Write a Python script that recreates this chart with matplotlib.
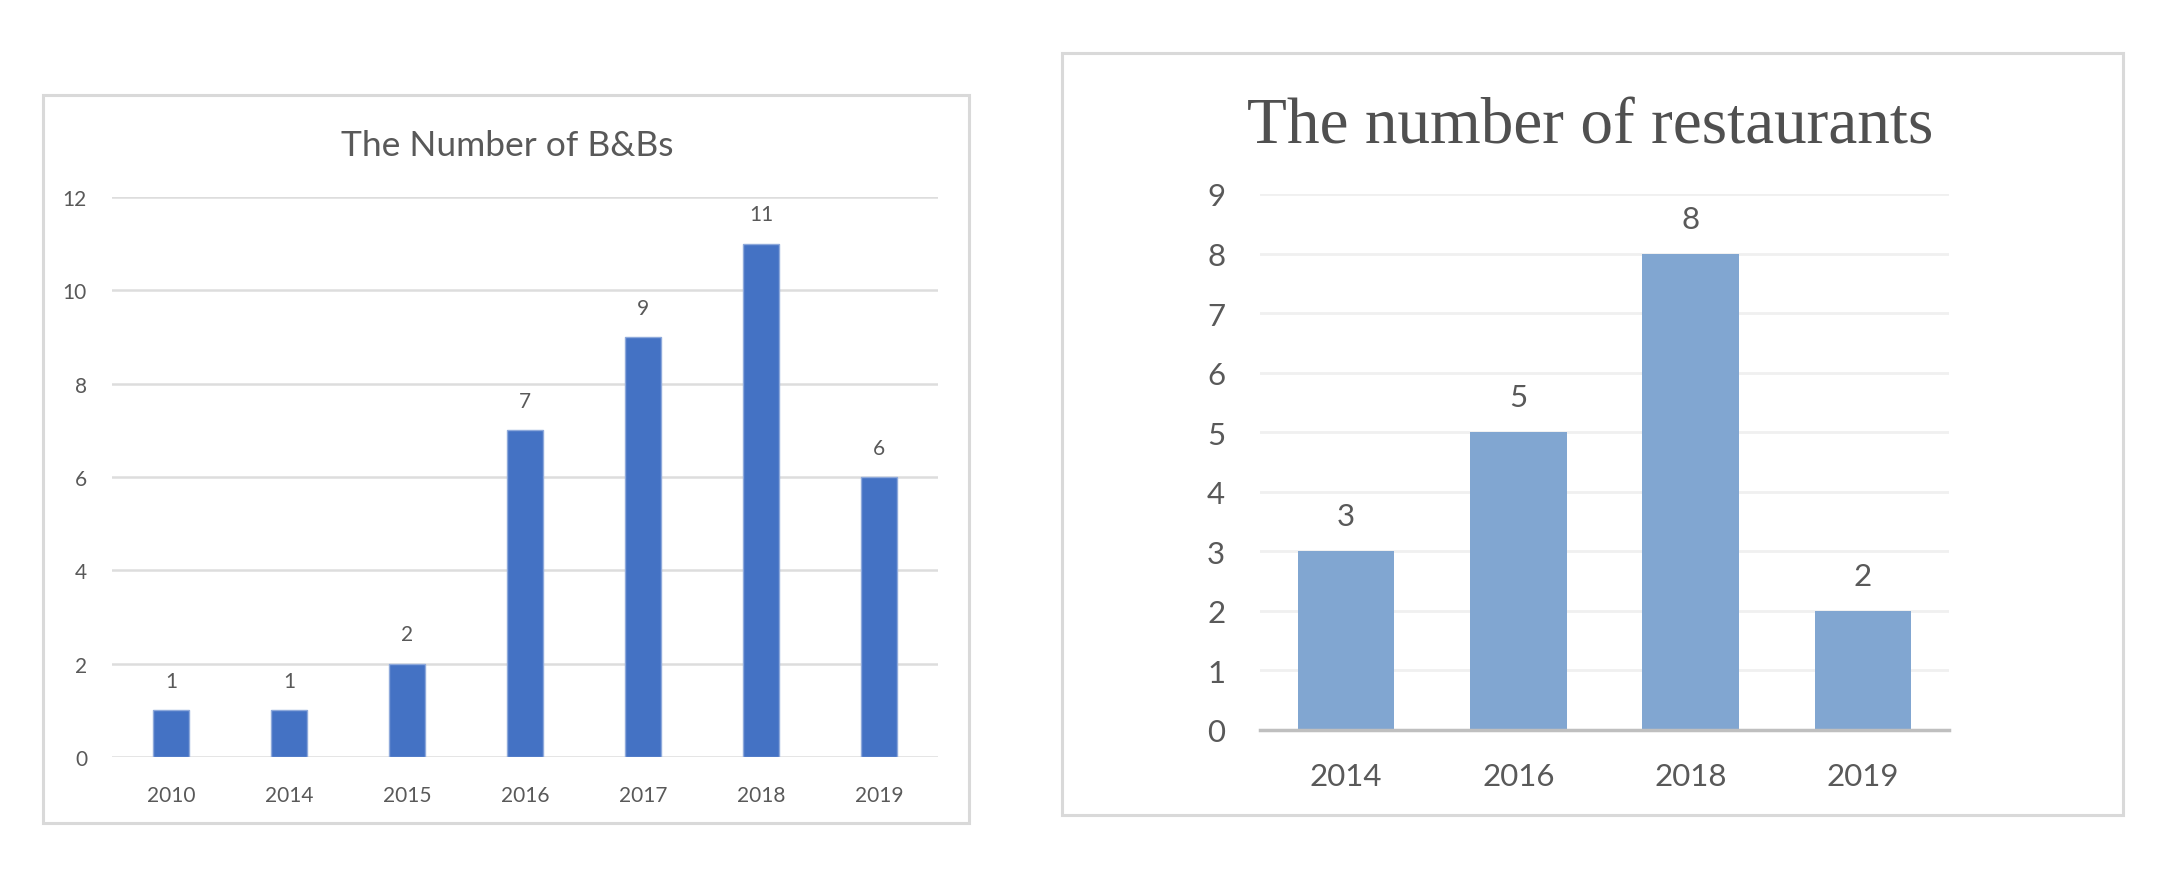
import matplotlib
matplotlib.use("Agg")
import matplotlib.pyplot as plt
from matplotlib.patches import Rectangle

# Data
bnb_years = ["2010", "2014", "2015", "2016", "2017", "2018", "2019"]
bnb_counts = [1, 1, 2, 7, 9, 11, 6]
bnb_yticks = [0, 2, 4, 6, 8, 10, 12]

rest_years = ["2014", "2016", "2018", "2019"]
rest_counts = [3, 5, 8, 2]
rest_yticks = [0, 1, 2, 3, 4, 5, 6, 7, 8, 9]

W, H = 2177, 887
fig = plt.figure(figsize=(W / 100, H / 100), dpi=100)
fig.patch.set_facecolor("white")


def fx(px):
    return px / W


def fy(py):
    return 1 - py / H


TXT = "#595959"
SANS = ["Lato", "DejaVu Sans"]

# Outer boxes
for (x0, y0, x1, y1) in [(43, 96, 969, 824), (1062, 54, 2123, 816)]:
    fig.patches.append(Rectangle((fx(x0), fy(y1)), fx(x1) - fx(x0), fy(y0) - fy(y1),
                                 transform=fig.transFigure, fill=False,
                                 edgecolor="#D9D9D9", linewidth=2.2, zorder=0))

# ---- Left chart ----
ax1 = fig.add_axes([fx(112), fy(758), fx(938) - fx(112), fy(198) - fy(758)])
x1 = range(len(bnb_years))
ax1.bar(x1, bnb_counts, width=0.31, color="#4472C4", edgecolor="#8EA9DB",
        linewidth=1.0, zorder=3)
ax1.set_xlim(-0.5, len(bnb_years) - 0.5)
ax1.set_ylim(0, 12)
ax1.set_yticks(bnb_yticks)
ax1.set_xticks(list(x1))
ax1.set_xticklabels(bnb_years)
for s in ax1.spines.values():
    s.set_visible(False)
ax1.grid(axis="y", color="#DDDDDD", linewidth=1.8, zorder=0)
ax1.tick_params(axis="both", length=0, labelsize=15, labelcolor=TXT)
ax1.tick_params(axis="y", pad=18)
ax1.tick_params(axis="x", pad=20)
for lab in ax1.get_xticklabels() + ax1.get_yticklabels():
    lab.set_family(SANS)
for xi, v in zip(x1, bnb_counts):
    ax1.annotate(str(v), (xi, v), xytext=(0, 14), textcoords="offset points",
                 ha="center", va="bottom", fontsize=15, color=TXT, family=SANS)
fig.text(fx(507), fy(156), "The Number of B&Bs", ha="center", va="baseline",
         fontsize=25.5, color=TXT, family=SANS)

# ---- Right chart ----
ax2 = fig.add_axes([fx(1260), fy(731), fx(1949) - fx(1260), fy(195) - fy(731)])
x2 = range(len(rest_years))
ax2.bar(x2, rest_counts, width=0.56, color="#81A6D1", zorder=3)
ax2.set_xlim(-0.5, len(rest_years) - 0.5)
ax2.set_ylim(0, 9)
ax2.set_yticks(rest_yticks)
ax2.set_xticks(list(x2))
ax2.set_xticklabels(rest_years)
for k, s in ax2.spines.items():
    s.set_visible(k == "bottom")
ax2.spines["bottom"].set_color("#BFBFBF")
ax2.spines["bottom"].set_linewidth(2.5)
ax2.spines["bottom"].set_zorder(4)
ax2.grid(axis="y", color="#F0F0F0", linewidth=2.0, zorder=0)
ax2.tick_params(axis="both", length=0, labelsize=22.5, labelcolor=TXT)
ax2.tick_params(axis="y", pad=25)
ax2.tick_params(axis="x", pad=23)
for lab in ax2.get_xticklabels() + ax2.get_yticklabels():
    lab.set_family(SANS)
for xi, v in zip(x2, rest_counts):
    ax2.annotate(str(v), (xi, v), xytext=(0, 15), textcoords="offset points",
                 ha="center", va="bottom", fontsize=22.5, color=TXT, family=SANS)
fig.text(fx(1590), fy(143), "The number of restaurants", ha="center", va="baseline",
         fontsize=47, color="#505050", family=["Liberation Serif", "DejaVu Serif"])

fig.savefig("out.png", dpi=100, facecolor="white")
